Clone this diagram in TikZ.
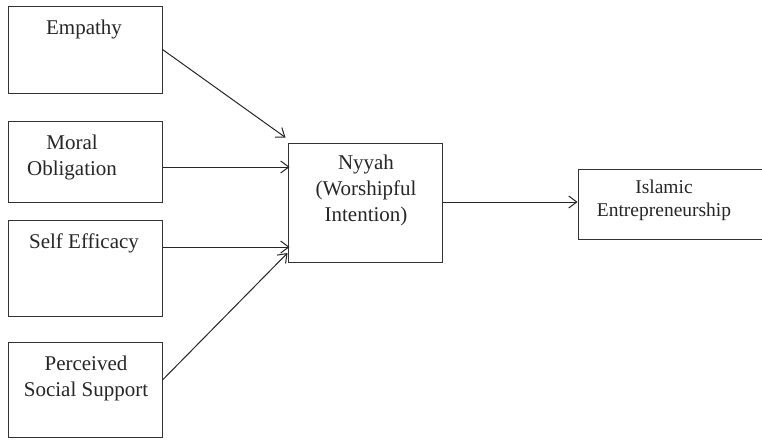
\documentclass[tikz,border=0pt]{standalone}
\usepackage{fontspec}
\setmainfont{Liberation Serif}
\usetikzlibrary{arrows.meta,calc}
\begin{document}
\begin{tikzpicture}[x=1pt,y=-1pt,
  box/.style={draw=black!80,line width=1pt,inner sep=0pt,fill=none},
  txt/.style={inner sep=0pt,align=center,font=\fontsize{21}{26}\selectfont,text=black!85},
  smalltxt/.style={inner sep=0pt,align=center,font=\fontsize{19.5}{23}\selectfont,text=black!85},
  arr/.style={draw=black!85,line width=1pt,-{Straight Barb[length=8pt,width=12pt,line width=1pt]}}]
\useasboundingbox (0,0) rectangle (762,439);
% boxes
\node[box,minimum width=154,minimum height=87] (emp) at (85,49.5) {};
\node[box,minimum width=154,minimum height=81] (mor) at (85,161.5) {};
\node[box,minimum width=154,minimum height=96] (sel) at (85,268) {};
\node[box,minimum width=154,minimum height=95] (per) at (85,389.5) {};
\node[box,minimum width=154,minimum height=119] (nyy) at (365,202.5) {};
\node[box,minimum width=210,minimum height=70] (isl) at (683,204) {};
% texts
\node[txt] (tEmp) at (84,29) {Empathy};
\node[txt] (tMor) at (72,157) {Moral\\Obligation};
\node[txt] (tSel) at (84,243) {Self Efficacy};
\node[txt] (tPer) at (86,378) {Perceived\\Social Support};
\node[txt] (tNyy) at (366,190) {Nyyah\\(Worshipful\\Intention)};
\node[smalltxt] (tIsl) at (664,200) {Islamic\\Entrepreneurship};
% connector points
\coordinate (e2) at ([xshift=-2pt,yshift=5pt]nyy.north west);
\coordinate (m1) at ([yshift=-5.5pt]mor.east);
\coordinate (s1) at ([yshift=21pt]sel.east);
\coordinate (p1) at ([yshift=9.5pt]per.east);
\coordinate (p2) at ([yshift=9.5pt]nyy.south west);
\coordinate (n1) at ([yshift=0.5pt]nyy.east);
% connectors
\draw[arr] (emp.east) -- (e2);
\draw[arr] (m1) -- ([xshift=2pt]m1 -| nyy.west);
\draw[arr] (s1) -- ([xshift=2pt]s1 -| nyy.west);
\draw[arr] (p1) -- (p2);
\draw[arr] (n1) -- (n1 -| isl.west);
\end{tikzpicture}
\end{document}
